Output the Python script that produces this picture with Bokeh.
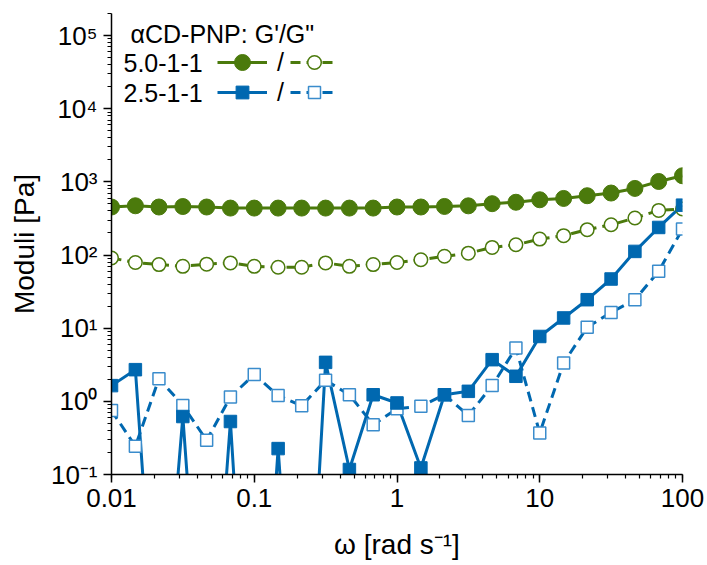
from bokeh.plotting import figure
from bokeh.models import Range1d, CustomJSTickFormatter, Legend, LegendItem, Label
from bokeh.core.properties import value
from bokeh.embed import file_html
from bokeh.resources import INLINE

# ---- data ----
omega = [0.01, 0.0147, 0.0215, 0.0316, 0.0464, 0.0681, 0.1, 0.147, 0.215, 0.316,
         0.464, 0.681, 1.0, 1.47, 2.15, 3.16, 4.64, 6.81, 10.0, 14.7, 21.5, 31.6,
         46.4, 68.1, 100.0]

gp_50 = [453, 471, 453, 460, 453, 438, 438, 438, 438, 438, 438, 438, 453, 453,
         461, 470, 503, 526, 569, 593, 646, 703, 813, 1012, 1211]
gpp_50 = [91, 79, 74, 70, 75, 78, 70, 68, 68, 78, 70, 74, 79, 86, 96, 106, 127,
          138, 165, 184, 222, 259, 320, 407, 425]
gp_25 = [1.64, 2.71, 7e-5, 0.62, 2e-5, 0.53, 3.5e-6, 0.226, 6e-6, 3.41, 0.117,
         1.23, 0.95, 0.123, 1.23, 1.37, 3.71, 2.2, 7.7, 13.8, 24.5, 47, 112, 238, 480]
gpp_25 = [0.75, 0.243, 2.04, 0.88, 0.293, 1.15, 2.32, 1.2, 0.87, 1.94, 1.23, 0.48,
          0.79, 0.86, 1.23, 0.64, 1.64, 5.36, 0.37, 3.34, 10.3, 16.4, 24.5, 60, 226]

legend_title = "\u03b1CD-PNP: G'/G\""
series_names = ["5.0-1-1", "2.5-1-1"]
x_label = "\u03c9 [rad s\u207b\u00b9]"
y_label = "Moduli [Pa]"

GREEN = "#4b7a0c"
BLUE = "#0068b0"
BLUE_OPEN = "#3a8ccc"
FONT = "Liberation Sans"

p = figure(width=707, height=565, x_axis_type="log", y_axis_type="log",
           x_range=Range1d(0.01, 100), y_range=Range1d(0.1, 2e5),
           output_backend="svg", toolbar_location=None,
           min_border_left=111, min_border_right=25, min_border_top=13,
           min_border_bottom=91)
p.outline_line_color = None
p.grid.visible = False
p.background_fill_color = "white"
p.border_fill_color = "white"

lg1 = p.line(omega, gp_50, line_color=GREEN, line_width=3)
lg2 = p.line(omega, gpp_50, line_color=GREEN, line_width=3, line_dash="10 6")
lb1 = p.line(omega, gp_25, line_color=BLUE, line_width=3)
lb2 = p.line(omega, gpp_25, line_color=BLUE, line_width=3, line_dash="10 6")
sg2 = p.scatter(omega, gpp_50, marker="circle", size=13.5, fill_color="white",
                line_color=GREEN, line_width=1.5)
sb2 = p.scatter(omega, gpp_25, marker="square", size=12, fill_color="white",
                line_color=BLUE_OPEN, line_width=1.5)
sg1 = p.scatter(omega, gp_50, marker="circle", size=16, fill_color=GREEN,
                line_color=GREEN)
sb1 = p.scatter(omega, gp_25, marker="square", size=12.5, fill_color=BLUE,
                line_color=BLUE)

# axes
for ax in (p.xaxis[0], p.yaxis[0]):
    ax.axis_line_width = 1.5
    ax.axis_line_color = "black"
    ax.major_tick_out = 8
    ax.major_tick_in = 0
    ax.minor_tick_out = 4
    ax.minor_tick_in = 0
    ax.major_tick_line_width = 1.5
    ax.minor_tick_line_width = 1.2
    ax.major_tick_line_color = "black"
    ax.minor_tick_line_color = "black"
    ax.major_label_text_font = FONT
    ax.major_label_text_font_size = "26px"
    ax.major_label_text_color = "black"
    ax.major_label_standoff = 6
    ax.axis_label_text_font = FONT
    ax.axis_label_text_font_size = "28px"
    ax.axis_label_text_font_style = "normal"
    ax.axis_label_text_color = "black"

p.xaxis.axis_label = x_label
p.yaxis.axis_label = y_label
p.xaxis.axis_label_standoff = 19
p.yaxis.axis_label_standoff = 8

p.xaxis.formatter = CustomJSTickFormatter(code="""
const e = Math.round(Math.log10(tick));
return e < 0 ? tick.toFixed(-e) : tick.toFixed(0);
""")
p.yaxis.formatter = CustomJSTickFormatter(code="""
const e = Math.round(Math.log10(tick));
const sup = {"-": "\u207b", "0": "\u2070", "1": "\u00b9", "2": "\u00b2", "3": "\u00b3",
             "4": "\u2074", "5": "\u2075", "6": "\u2076", "7": "\u2077", "8": "\u2078", "9": "\u2079"};
return "10" + String(e).split("").map(c => sup[c]).join("");
""")

# legend (custom layout)
def add_leg(renderers, label, gw, gh, loc):
    leg = Legend(items=[LegendItem(label=value(label), renderers=renderers)],
                 location=loc, glyph_width=gw, glyph_height=gh, label_height=gh,
                 label_standoff=10, padding=0, margin=0, spacing=0,
                 border_line_color=None, background_fill_alpha=0,
                 label_text_font=FONT, label_text_font_size="25px",
                 label_text_color="black")
    p.add_layout(leg)

FH = 461
add_leg([lg1, sg1], "/", 50, 40, (106, FH - 49 - 20))
add_leg([lg2, sg2], " ", 48, 34, (179, FH - 49 - 17))
add_leg([lb1, sb1], "/", 50, 32, (106, FH - 79 - 16))
add_leg([lb2, sb2], " ", 48, 30, (179, FH - 79 - 15))

p.add_layout(Label(x=19, y=FH - 20, x_units="screen", y_units="screen",
                   text=legend_title, text_font=FONT, text_font_size="25px",
                   text_baseline="middle", text_color="black"))
p.add_layout(Label(x=12, y=FH - 49, x_units="screen", y_units="screen",
                   text=series_names[0], text_font=FONT, text_font_size="25px",
                   text_baseline="middle", text_color="black"))
p.add_layout(Label(x=12, y=FH - 79, x_units="screen", y_units="screen",
                   text=series_names[1], text_font=FONT, text_font_size="25px",
                   text_baseline="middle", text_color="black"))

open("out.html", "w").write(file_html(p, INLINE))
